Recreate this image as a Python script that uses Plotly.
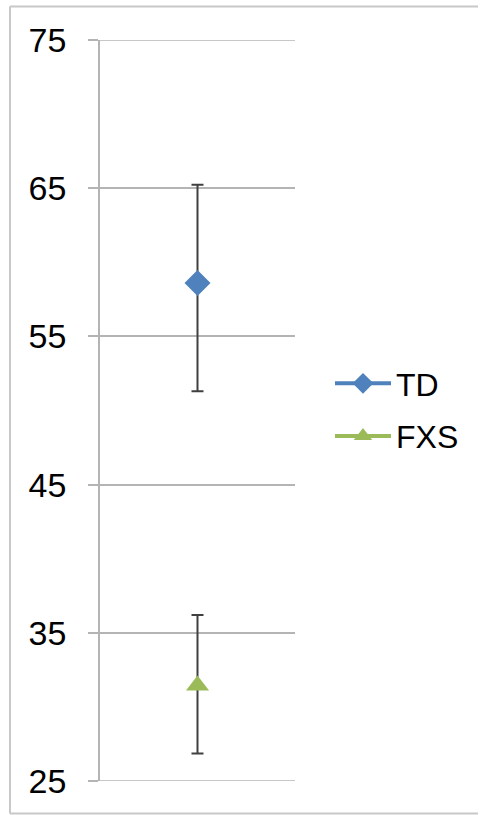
import plotly.graph_objects as go

groups = ["TD", "FXS"]
means = [58.6, 31.45]
err_plus = [6.64, 4.75]
err_minus = [7.3, 4.6]
colors = ["#4F81BD", "#9BBB59"]
symbols = ["diamond", "triangle-up"]
y_ticks = [25, 35, 45, 55, 65, 75]

fig = go.Figure()
for g, m, ep, em, c, s in zip(groups, means, err_plus, err_minus, colors, symbols):
    fig.add_trace(go.Scatter(
        x=[1], y=[m], name=g, legendgroup=g, mode="lines+markers",
        marker=dict(symbol=s, size=20, color=c),
        line=dict(color=c, width=4),
        error_y=dict(type="data", symmetric=False, array=[ep], arrayminus=[em],
                     color="#404040", thickness=2, width=6),
    ))

gray = "#b4b4b4"
L, R, T, B = 100, 187, 40, 34
W, H = 482, 815
pw, ph = W - L - R, H - T - B

def px(x):
    return (x - L) / pw

def py(y):
    return (H - B - y) / ph

# outer frame: left, top and bottom edges only
for x0, y0, x1, y1 in [(10, 6.5, 10, 813.5), (10, 6.5, W - 4, 6.5), (10, 813.5, W - 4, 813.5)]:
    fig.add_shape(type="line", xref="paper", yref="paper",
                  x0=px(x0), y0=py(y0), x1=px(x1), y1=py(y1),
                  line=dict(color="#c8c8c8", width=2))

# gridlines at the range ends
for v in (y_ticks[0], y_ticks[-1]):
    fig.add_shape(type="line", xref="paper", yref="y", x0=0, x1=1, y0=v, y1=v,
                  line=dict(color=gray, width=1.5), layer="below")

fig.update_layout(
    width=W, height=H,
    margin=dict(l=L, r=R, t=T, b=B),
    paper_bgcolor="white", plot_bgcolor="white",
    font=dict(family="Liberation Sans, Arial, sans-serif", color="black"),
    showlegend=True,
    legend=dict(x=px(330), y=py(410), xanchor="left", yanchor="middle",
                font=dict(size=32), tracegroupgap=8, itemwidth=56,
                bgcolor="rgba(0,0,0,0)"),
    xaxis=dict(range=[0.5, 1.5], visible=False, showgrid=False, zeroline=False),
    yaxis=dict(range=[25, 75], tickvals=y_ticks, ticktext=[str(v) for v in y_ticks],
               showgrid=True, gridcolor=gray, gridwidth=1.5,
               showline=True, linecolor=gray, linewidth=1.5,
               ticks="outside", ticklen=10, tickcolor=gray, tickwidth=1.5,
               tickfont=dict(size=34), zeroline=False, ticklabelstandoff=15),
)

fig.write_html("out.html", config={"displayModeBar": False},
               post_script="document.body.style.margin='0px';document.body.style.overflow='hidden';")
